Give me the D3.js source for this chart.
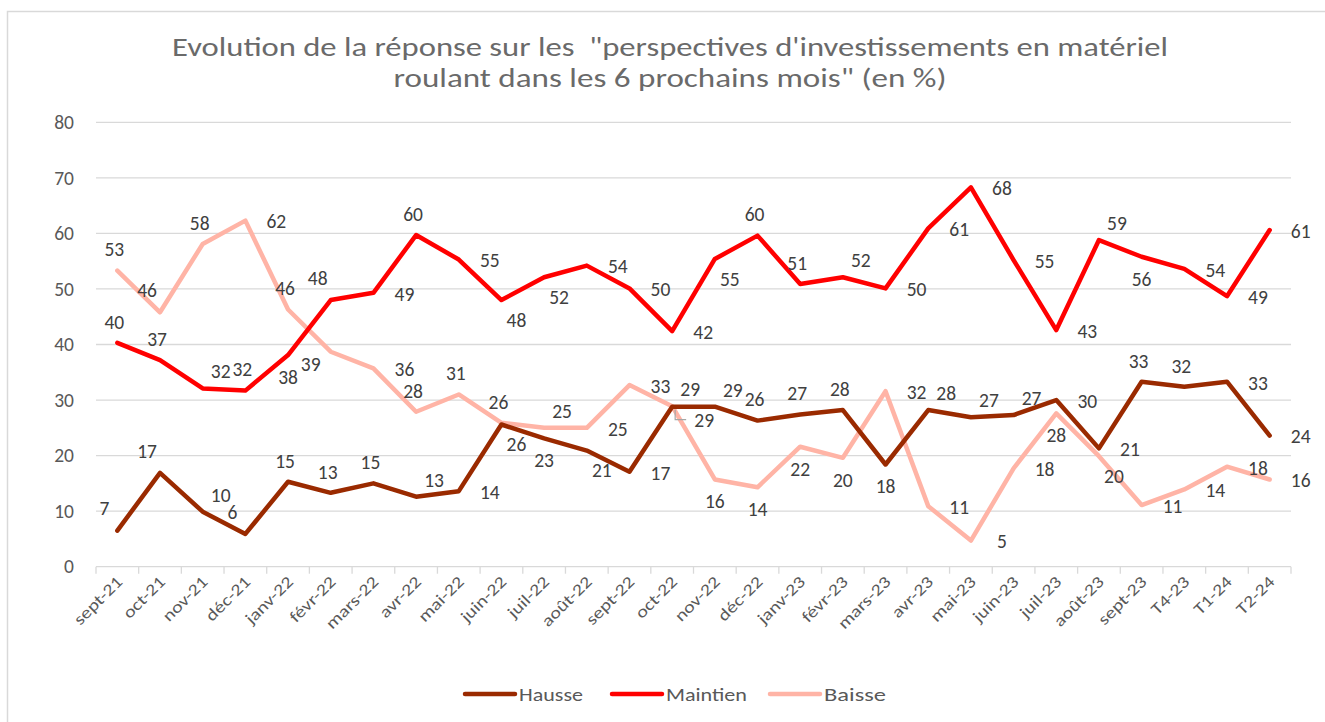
<!DOCTYPE html>
<html lang="fr">
<head>
<meta charset="utf-8">
<script src="https://cdn.jsdelivr.net/npm/d3@7"></script>
<style>
  html, body { margin: 0; padding: 0; background: #fff; }
  svg text { font-family: Carlito, Calibri, Lato, "Open Sans", sans-serif; }
</style>
</head>
<body>
<svg id="chart" width="1325" height="722"></svg>
<script>
// Survey months / quarters
const categories = ["sept-21", "oct-21", "nov-21", "déc-21", "janv-22", "févr-22", "mars-22", "avr-22",
  "mai-22", "juin-22", "juil-22", "août-22", "sept-22", "oct-22", "nov-22", "déc-22", "janv-23",
  "févr-23", "mars-23", "avr-23", "mai-23", "juin-23", "juil-23", "août-23", "sept-23", "T4-23",
  "T1-24", "T2-24"];

// Share of answers (%)
const hausse = [6.5, 16.9, 9.9, 5.9, 15.3, 13.3, 15.0, 12.6, 13.6, 25.6, 23.1, 20.9, 17.1, 28.8,
  28.8, 26.3, 27.4, 28.2, 18.4, 28.2, 26.9, 27.3, 30.0, 21.3, 33.3, 32.4, 33.3, 23.6];
const maintien = [40.3, 37.2, 32.1, 31.7, 38.1, 48.0, 49.3, 59.7, 55.3, 48.0, 52.1, 54.2, 50.1, 42.4,
  55.4, 59.6, 50.9, 52.1, 50.1, 60.9, 68.3, 55.2, 42.6, 58.8, 55.8, 53.6, 48.7, 60.6];
const baisse = [53.3, 45.8, 58.1, 62.3, 46.3, 38.7, 35.7, 27.9, 31.0, 25.9, 25.0, 25.0, 32.7, 28.9,
  15.7, 14.3, 21.6, 19.6, 31.6, 10.9, 4.7, 17.7, 27.6, 19.9, 11.1, 13.9, 18.0, 15.7];

const seriesNames = ["Hausse", "Maintien", "Baisse"];
const yTicks = [0, 10, 20, 30, 40, 50, 60, 70, 80];

// Where each data label sits around its point
const placeHausse = ["al","al","ar","al","a","a","a","ar","r","br","b","br","r","rL","ar","a","a","a",
  "b","ar","ar","ar","r","r","a","a","r","r"];
const placeMaintien = ["a","a","ar","a","b","al","r","a","r","br","br","r","r","r","br","a","a","ar",
  "r","r","r","r","r","ar","b","r","r","r"];
const placeBaisse = ["a","al","a","r","a","bl","r","a","a","a","ar","r","r","ar","b","b","b","b",
  "r","r","r","r","b","br","r","r","r","r"];

const colors = ["#9a2a00", "#ff0000", "#ffb4a6"];
const offsets = {
  a: [-3, -21], al: [-13, -22], ar: [18, -17], r: [31, 1], rL: [32, 13],
  b: [0, 22], br: [15, 20], bl: [-20, 12]
};

const svg = d3.select("#chart");
const W = 1325, H = 722;
const plotLeft = 96, plotRight = 1291, plotTop = 122.3, plotBottom = 566.7;

// chart frame
svg.append("path")
  .attr("d", `M7.5,${H} V11.5 H${W}`)
  .attr("fill", "none").attr("stroke", "#d9d9d9").attr("stroke-width", 1.5);

const x = d3.scaleBand().domain(categories).range([plotLeft, plotRight]).padding(0);
const y = d3.scaleLinear().domain([0, 80]).range([plotBottom, plotTop]);
const cx = c => x(c) + x.bandwidth() / 2;

// gridlines
svg.append("g").selectAll("line").data(yTicks).join("line")
  .attr("x1", plotLeft).attr("x2", plotRight)
  .attr("y1", d => y(d)).attr("y2", d => y(d))
  .attr("stroke", "#d9d9d9").attr("stroke-width", 1.3);

// y axis labels
const yAxis = d3.axisLeft(y).tickValues(yTicks).tickSize(0).tickPadding(22);
const gy = svg.append("g").attr("transform", `translate(${plotLeft},0)`).call(yAxis);
gy.select(".domain").remove();
gy.selectAll("text").attr("font-size", 19.5).attr("fill", "#595959")
  .style("font-family", "Carlito, Calibri, Lato, sans-serif");

// x axis: tick marks between categories, rotated labels under each category
const edges = categories.map(c => x(c)).concat([plotRight]);
svg.append("g").selectAll("line").data(edges).join("line")
  .attr("x1", d => d).attr("x2", d => d)
  .attr("y1", plotBottom).attr("y2", plotBottom + 7)
  .attr("stroke", "#d9d9d9").attr("stroke-width", 1.3);

const xAxis = d3.axisBottom(x).tickSize(0).tickPadding(0);
const gx = svg.append("g").attr("transform", `translate(0,${plotBottom})`).call(xAxis);
gx.select(".domain").remove();
gx.selectAll("text")
  .attr("font-size", 16.5).attr("fill", "#595959")
  .style("font-family", "Carlito, Calibri, Lato, sans-serif")
  .attr("text-anchor", "end")
  .attr("dy", "0.35em")
  .attr("transform", "translate(2,12) rotate(-45) scale(1.22,1)");

// title, widened to the chart's title width
const titleLines = [
  'Evolution de la réponse sur les  "perspectives d\'investissements en matériel',
  'roulant dans les 6 prochains mois" (en %)'
];
const titleWidths = [996, 553];
titleLines.forEach((t, i) => {
  svg.append("text")
    .attr("x", 670).attr("y", 56 + i * 31)
    .attr("text-anchor", "middle")
    .attr("font-size", 26.5).attr("fill", "#6a6a6a")
    .style("white-space", "pre")
    .attr("textLength", titleWidths[i])
    .attr("lengthAdjust", "spacingAndGlyphs")
    .text(t);
});

// lines
const series = [hausse, maintien, baisse];
const places = [placeHausse, placeMaintien, placeBaisse];
const line = d3.line().x((d, i) => cx(categories[i])).y(d => y(d));
const drawOrder = [2, 0, 1];
drawOrder.forEach(si => {
  svg.append("path").datum(series[si])
    .attr("d", line)
    .attr("fill", "none")
    .attr("stroke", colors[si])
    .attr("stroke-width", 4.5)
    .attr("stroke-linejoin", "round")
    .attr("stroke-linecap", "round");
});

// data labels
series.forEach((vals, si) => {
  const g = svg.append("g");
  vals.forEach((v, i) => {
    const p = places[si][i];
    const [dx, dy] = offsets[p];
    const px = cx(categories[i]), py = y(v);
    if (p === "rL") {
      g.append("path")
        .attr("d", `M${px + 3},${py + 3} V${py + 13} H${px + 14}`)
        .attr("fill", "none").attr("stroke", "#a6a6a6").attr("stroke-width", 1.2);
    }
    g.append("text")
      .attr("x", px + dx).attr("y", py + dy)
      .attr("dy", "0.35em")
      .attr("text-anchor", "middle")
      .attr("font-size", 19.5).attr("fill", "#404040")
      .text(d3.format(".0f")(v));
  });
});

// legend
const legendPos = [465, 612, 770];
const legendWidths = [64, 81, 62];
const legend = svg.append("g");
seriesNames.forEach((name, si) => {
  const lx = legendPos[si];
  legend.append("line")
    .attr("x1", lx).attr("x2", lx + 50).attr("y1", 694).attr("y2", 694)
    .attr("stroke", colors[si]).attr("stroke-width", 4.5).attr("stroke-linecap", "round");
  legend.append("text")
    .attr("x", lx + 54).attr("y", 694).attr("dy", "0.35em")
    .attr("font-size", 19).attr("fill", "#595959")
    .attr("textLength", legendWidths[si])
    .attr("lengthAdjust", "spacingAndGlyphs")
    .text(name);
});
</script>
</body>
</html>
